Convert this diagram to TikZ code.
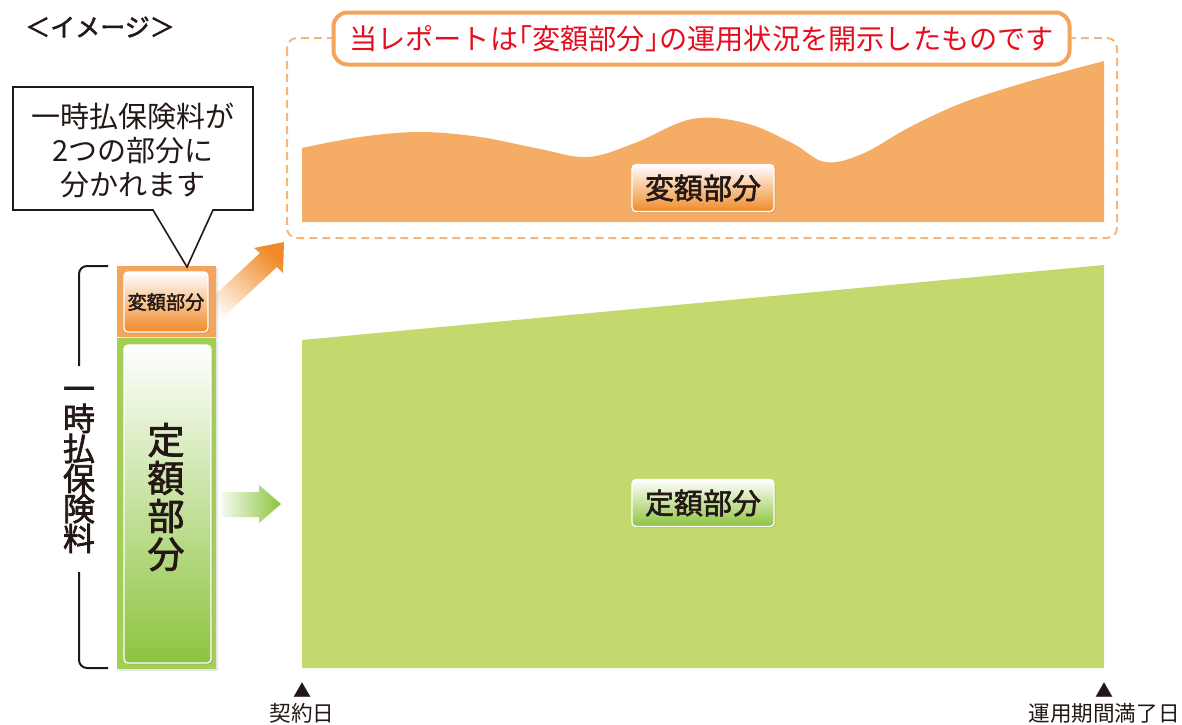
\documentclass[tikz,border=0pt]{standalone}
\usepackage{fontspec}
\setmainfont{Noto Sans CJK JP}
\newfontfamily\medfont[FakeBold=2]{Noto Sans CJK JP}
\usetikzlibrary{shadows}
\definecolor{orgfill}{HTML}{F5AD66}
\definecolor{orgline}{HTML}{F4A55C}
\definecolor{orgdash}{HTML}{F7B57A}
\definecolor{orgdeep}{HTML}{F08A28}
\definecolor{orgmid}{HTML}{F9CFA3}
\definecolor{grnfill}{HTML}{C3D96D}
\definecolor{grnframe}{HTML}{A3CF55}
\definecolor{grndeep}{HTML}{8CC43E}
\definecolor{grnmid}{HTML}{CBE4A2}
\definecolor{redtxt}{HTML}{E60E1E}
\definecolor{ink}{HTML}{231815}
\tikzset{
  btnO/.style={rounded corners=2pt, draw=white, line width=0.6pt,
    top color=white, middle color=orgmid!60!white, bottom color=orgdeep,
    drop shadow={opacity=0.25, shadow xshift=0.8pt, shadow yshift=-0.8pt},
    inner sep=0pt, text=ink},
  btnG/.style={rounded corners=2pt, draw=white, line width=0.6pt,
    top color=white, middle color=grnmid!70!white, bottom color=grndeep,
    drop shadow={opacity=0.25, shadow xshift=0.8pt, shadow yshift=-0.8pt},
    inner sep=0pt, text=ink},
  lbl/.style={inner sep=0pt, text=ink},
}
\begin{document}
\begin{tikzpicture}[x=0.5pt,y=-0.5pt]
\useasboundingbox (0,0) rectangle (1182,724);
\fill[white] (0,0) rectangle (1182,724);

% title "<image>"
\node[lbl, font=\fontsize{12.5}{14}\selectfont\medfont] (image) at (100,27) {＜イメージ＞};

% dashed frame
\draw[orgdash, line width=1pt, dash pattern=on 4pt off 2.5pt, rounded corners=5pt]
  (287,38) rectangle (1117,238);

% orange curve area
\fill[orgfill] (302,222) --
  plot[smooth, tension=0.6] coordinates {(302,148) (360,137) (420,132) (480,137) (540,149) (588,157) (635,143) (692,119) (745,123) (792,143) (825,162) (862,154) (910,127) (962,103) (1020,84) (1070,70) (1104,61)}
  -- (1104,222) -- cycle;

% title box
\node[draw=orgline, line width=2pt, fill=white, rounded corners=7pt,
  minimum width=368pt, minimum height=26pt, inner sep=0pt, text=redtxt,
  font=\fontsize{14.1}{15}\selectfont] (title) at (701.5,38.5)
  {当レポートは｢変額部分｣の運用状況を開示したものです};

% green area
\fill[grnfill] (302,668) -- (302,340) -- (1104,265) -- (1104,668) -- cycle;

% chart labels
\node[btnO, minimum width=71pt, minimum height=23.5pt, font=\fontsize{14.5}{16}\selectfont\medfont] (hengakuC) at (703,188) {変額部分};
\node[btnG, minimum width=71pt, minimum height=23.5pt, font=\fontsize{14.5}{16}\selectfont\medfont] (teigakuC) at (703,503) {定額部分};

% orange arrow (diagonal)
\shade[bottom color=orgdeep!5!white, top color=orgdeep, shading angle=-40]
  (203,306) -- (260,253) -- (254,248) -- (284,242) -- (283,273) -- (277,267) -- (220,320) -- cycle;

% green arrow
\shade[left color=grndeep!10!white, right color=grndeep]
  (222,492) -- (259,492) -- (259,485) -- (281,504) -- (259,523) -- (259,517) -- (222,517) -- cycle;

% left column
\node[fill=orgline, minimum width=49.5pt, minimum height=35.5pt, inner sep=0pt,
  drop shadow={opacity=0.2, shadow xshift=0.8pt, shadow yshift=-0.8pt}] (colO) at (166.5,301.5) {};
\node[btnO, minimum width=42pt, minimum height=30pt, font=\fontsize{9.6}{11}\selectfont\medfont] (hengakuL) at (166,302) {変額部分};
\node[fill=grnframe, minimum width=49.5pt, minimum height=165.5pt, inner sep=0pt,
  drop shadow={opacity=0.2, shadow xshift=0.8pt, shadow yshift=-0.8pt}] (colG) at (166.5,503.5) {};
\node[btnG, minimum width=43.5pt, minimum height=159pt] (teigakuBox) at (167.5,504) {};
\node[lbl, align=center, font=\fontsize{18.5}{19}\selectfont\medfont] (teigakuL) at (166,497) {定\\額\\部\\分};

% bracket
\node[lbl, align=center, font=\fontsize{16}{15}\selectfont\medfont] (ichiji) at (79,470) {一\\時\\払\\保\\険\\料};
\coordinate (brTop) at (108,266);
\coordinate (brBot) at (108,668);
\draw[ink, line width=1pt, rounded corners=4pt] (brTop) -- (79,266) -- (79,366);
\draw[ink, line width=1pt, rounded corners=4pt] (79,572) -- (79,668) -- (brBot);

% callout
\coordinate (tip) at (187,267);
\draw[ink, line width=0.8pt, fill=white, line join=miter]
  (13,87) -- (253,87) -- (253,210) -- (213,210) -- (tip) -- (153,210) -- (13,210) -- cycle;
\node[lbl, align=center, font=\fontsize{14.5}{17}\selectfont] (calltxt) at (133,150) {一時払保険料が\\2つの部分に\\分かれます};

% timeline markers
\node[lbl, font=\fontsize{9}{10}\selectfont] (triA) at (302,690) {▲};
\node[lbl, font=\fontsize{10.8}{12}\selectfont] (start) at (302,713) {契約日};
\node[lbl, font=\fontsize{9}{10}\selectfont] (triB) at (1104,690) {▲};
\node[lbl, font=\fontsize{10.8}{12}\selectfont] (end) at (1104,713) {運用期間満了日};
\end{tikzpicture}
\end{document}
